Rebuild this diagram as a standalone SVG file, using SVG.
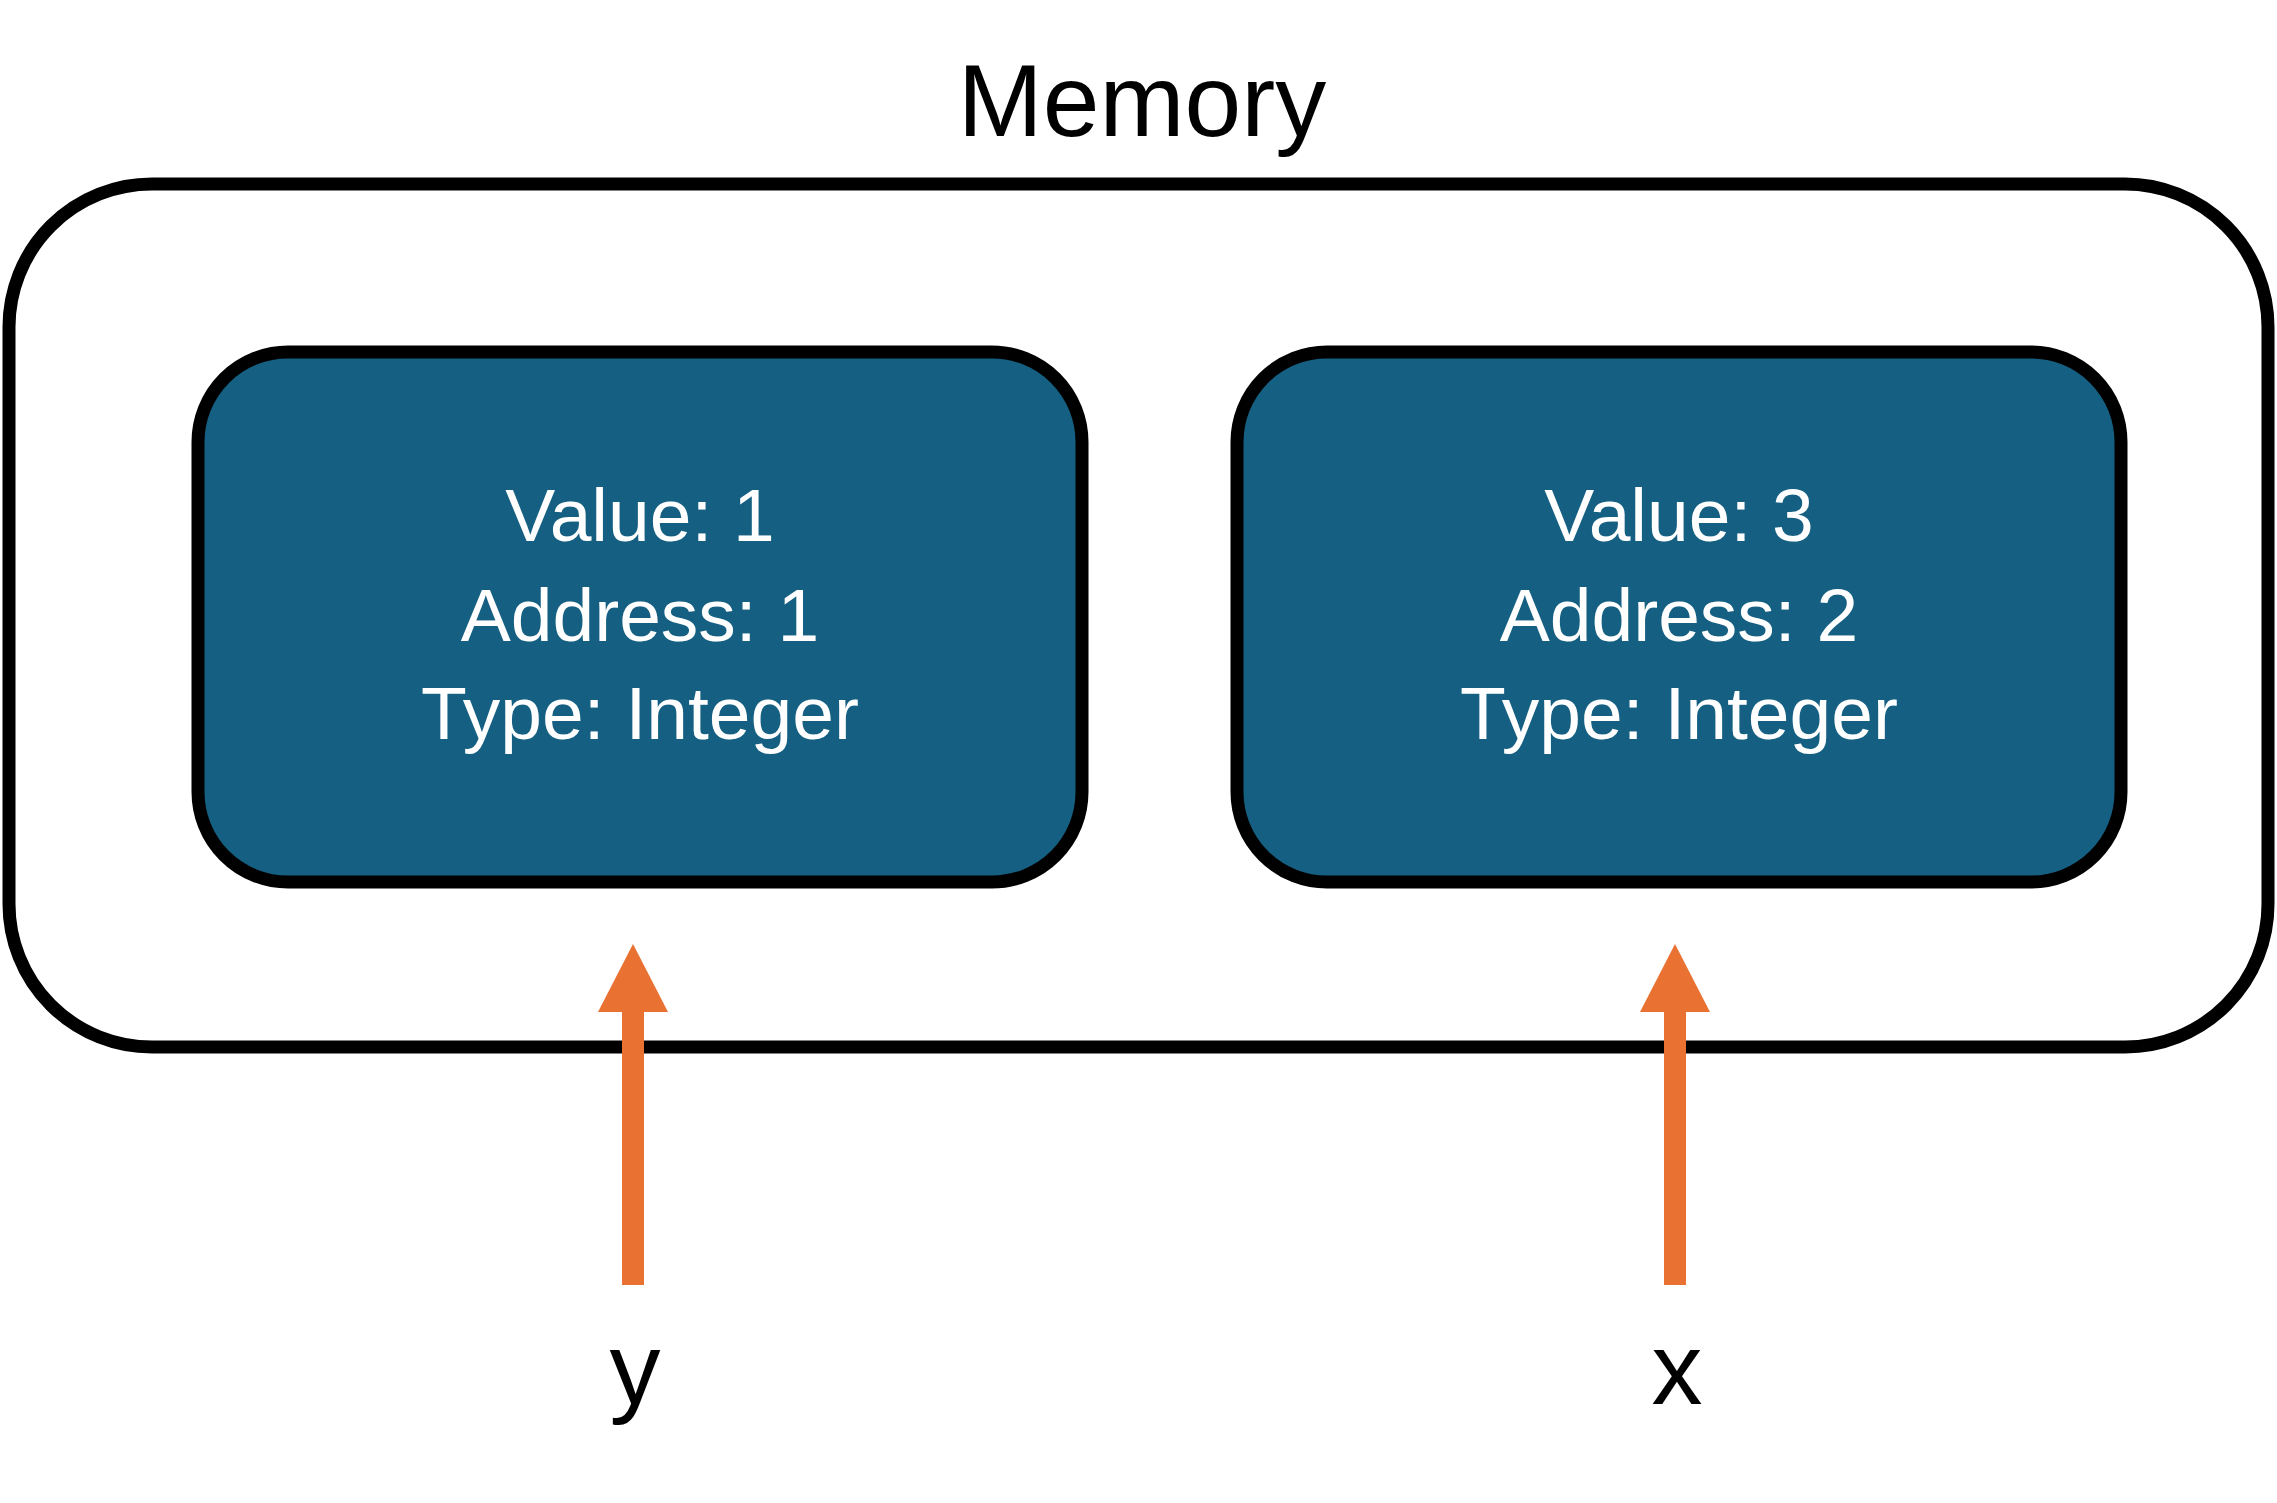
<svg xmlns="http://www.w3.org/2000/svg" width="2277" height="1503" viewBox="0 0 2277 1503">
<style>
.frame{fill:#ffffff;stroke:#000000;stroke-width:13}
.cell{fill:#156082;stroke:#000000;stroke-width:13}
.title{font-family:"Liberation Sans",Arial,sans-serif;font-size:102px;fill:#000000;text-anchor:middle}
.cellText{font-family:"Liberation Sans",Arial,sans-serif;font-size:75px;fill:#ffffff;text-anchor:middle}
.shaft{stroke:#E97132;stroke-width:22;fill:none}
.head{fill:#E97132}
</style>
<rect width="2277" height="1503" fill="#ffffff"/>
<g id="memory">
<rect class="frame" x="9" y="184" width="2259" height="863" rx="143" ry="143"/>
<text class="title" x="1142" y="136">Memory</text>
</g>
<g id="cell-y">
<rect class="cell" x="198" y="352" width="884" height="530" rx="90" ry="90"/>
<text class="cellText" x="640" y="541">Value: 1</text>
<text class="cellText" x="640" y="641">Address: 1</text>
<text class="cellText" x="640" y="739">Type: Integer</text>
</g>
<g id="cell-x">
<rect class="cell" x="1237" y="352" width="884" height="530" rx="90" ry="90"/>
<text class="cellText" x="1679" y="541">Value: 3</text>
<text class="cellText" x="1679" y="641">Address: 2</text>
<text class="cellText" x="1679" y="739">Type: Integer</text>
</g>
<g id="label-y">
<text class="title" x="635" y="1404">y</text>
</g>
<g id="label-x">
<text class="title" x="1677" y="1404">x</text>
</g>
<g id="connectors">
<line class="shaft" x1="633" y1="1285" x2="633" y2="1008"/>
<polygon class="head" points="598,1012 668,1012 633,944"/>
<line class="shaft" x1="1675" y1="1285" x2="1675" y2="1008"/>
<polygon class="head" points="1640,1012 1710,1012 1675,944"/>
</g>
</svg>
